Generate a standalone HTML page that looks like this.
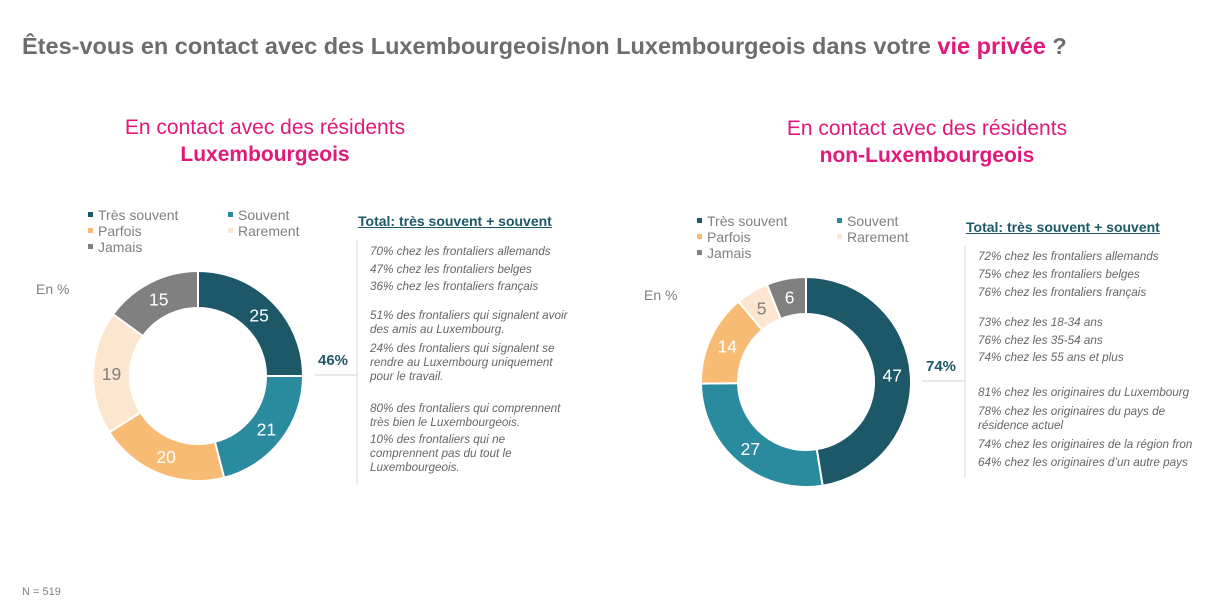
<!DOCTYPE html>
<html><head><meta charset="utf-8"><style>
body{margin:0;width:1224px;height:609px;background:#fff;font-family:"Liberation Sans",sans-serif;position:relative;overflow:hidden}
.a{position:absolute;white-space:nowrap}
.t{font-size:23.5px;font-weight:bold;color:#6d6d6d;left:22px;top:33px}
.pk{color:#e0197a}
.sub{font-size:21px;color:#e0197a;text-align:center;width:400px;line-height:27px}
.lg{font-size:14px;color:#808080;line-height:16px}
.lg i{display:inline-block;width:5px;height:5px;margin-right:5px;vertical-align:middle;position:relative;top:-2px}
.hd{font-size:14px;font-weight:bold;color:#1d5868;text-decoration:underline}
.it{font-size:11.7px;font-style:italic;color:#666;line-height:14px}
.big{font-size:15px;font-weight:bold;color:#1d5868}
</style></head><body>
<div class="a t">Êtes-vous en contact avec des Luxembourgeois/non Luxembourgeois dans votre <span class="pk">vie privée</span> ?</div>
<div class="a sub" style="left:65px;top:114px">En contact avec des résidents<br><b>Luxembourgeois</b></div>
<div class="a sub" style="left:727px;top:115px">En contact avec des résidents<br><b>non-Luxembourgeois</b></div>

<div class="a lg" style="left:88px;top:207px"><i style="background:#1d5868"></i>Très souvent<br><i style="background:#f8bb73"></i>Parfois<br><i style="background:#808080"></i>Jamais</div>
<div class="a lg" style="left:228px;top:207px"><i style="background:#2a8a9e"></i>Souvent<br><i style="background:#fde6d0"></i>Rarement</div>
<div class="a lg" style="left:697px;top:213px"><i style="background:#1d5868"></i>Très souvent<br><i style="background:#f8bb73"></i>Parfois<br><i style="background:#808080"></i>Jamais</div>
<div class="a lg" style="left:837px;top:213px"><i style="background:#2a8a9e"></i>Souvent<br><i style="background:#fde6d0"></i>Rarement</div>
<div class="a lg" style="left:36px;top:281px">En %</div>
<div class="a lg" style="left:644px;top:287px">En %</div>

<svg class="a" style="left:0;top:0" width="1224" height="609" id="s">
<line x1="315" y1="375" x2="357" y2="375" stroke="#d0d0d0"/>
<line x1="357" y1="240" x2="357" y2="485" stroke="#d8d8d8"/>
<line x1="922" y1="381" x2="965" y2="381" stroke="#d0d0d0"/>
<line x1="965" y1="246" x2="965" y2="478" stroke="#d8d8d8"/>
</svg>

<div class="a big" style="left:318px;top:352px">46%</div>
<div class="a big" style="left:926px;top:358px">74%</div>
<div class="a hd" style="left:358px;top:213px">Total: très souvent + souvent</div>
<div class="a hd" style="left:966px;top:219px">Total: très souvent + souvent</div>

<div class="a it" style="left:370px;top:245px">70% chez les frontaliers allemands</div>
<div class="a it" style="left:370px;top:263px">47% chez les frontaliers belges</div>
<div class="a it" style="left:370px;top:280px">36% chez les frontaliers français</div>
<div class="a it" style="left:370px;top:309px">51% des frontaliers qui signalent avoir<br>des amis au Luxembourg.</div>
<div class="a it" style="left:370px;top:342px">24% des frontaliers qui signalent se<br>rendre au Luxembourg uniquement<br>pour le travail.</div>
<div class="a it" style="left:370px;top:402px">80% des frontaliers qui comprennent<br>très bien le Luxembourgeois.</div>
<div class="a it" style="left:370px;top:433px">10% des frontaliers qui ne<br>comprennent pas du tout le<br>Luxembourgeois.</div>

<div class="a it" style="left:978px;top:250px">72% chez les frontaliers allemands</div>
<div class="a it" style="left:978px;top:268px">75% chez les frontaliers belges</div>
<div class="a it" style="left:978px;top:286px">76% chez les frontaliers français</div>
<div class="a it" style="left:978px;top:316px">73% chez les 18-34 ans</div>
<div class="a it" style="left:978px;top:334px">76% chez les 35-54 ans</div>
<div class="a it" style="left:978px;top:351px">74% chez les 55 ans et plus</div>
<div class="a it" style="left:978px;top:386px">81% chez les originaires du Luxembourg</div>
<div class="a it" style="left:978px;top:405px">78% chez les originaires du pays de<br>résidence actuel</div>
<div class="a it" style="left:978px;top:438px">74% chez les originaires de la région fron</div>
<div class="a it" style="left:978px;top:456px">64% chez les originaires d’un autre pays</div>

<div class="a" style="left:22px;top:586px;font-size:11px;color:#808080">N = 519</div>

<script>
var s=document.getElementById('s'),NS='http://www.w3.org/2000/svg';
var cols=['#1d5868','#2a8a9e','#f8bb73','#fde6d0','#808080'];
var tc=['#fff','#fff','#fff','#7f7f7f','#fff'];
function donut(cx,cy,R,r,vals){
 var tot=vals.reduce(function(a,b){return a+b},0),a0=0;
 vals.forEach(function(v,i){
  var a1=a0+v/tot*2*Math.PI;
  function p(rad,a){return [cx+rad*Math.sin(a),cy-rad*Math.cos(a)]}
  var L=(a1-a0)>Math.PI?1:0,o0=p(R,a0),o1=p(R,a1),i1=p(r,a1),i0=p(r,a0);
  var e=document.createElementNS(NS,'path');
  e.setAttribute('d','M'+o0+'A'+R+','+R+' 0 '+L+' 1 '+o1+'L'+i1+'A'+r+','+r+' 0 '+L+' 0 '+i0+'Z');
  e.setAttribute('fill',cols[i]);e.setAttribute('stroke','#fff');e.setAttribute('stroke-width','2');
  s.appendChild(e);
  var m=(a0+a1)/2,q=p((R+r)/2,m),t=document.createElementNS(NS,'text');
  t.setAttribute('x',q[0]);t.setAttribute('y',q[1]+6.5);t.setAttribute('text-anchor','middle');
  t.setAttribute('font-size','17.5');t.setAttribute('font-family','Liberation Sans, sans-serif');
  t.setAttribute('fill',tc[i]);t.textContent=v;s.appendChild(t);
  a0=a1;
 });
}
donut(198,376,105,68,[25,21,20,19,15]);
donut(806,382,105,68,[47,27,14,5,6]);
</script>
</body></html>
